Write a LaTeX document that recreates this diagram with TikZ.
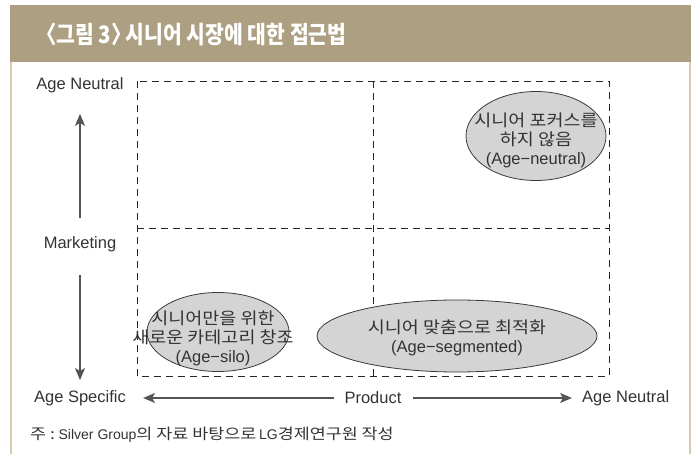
\documentclass[tikz,border=0pt]{standalone}
\usepackage{fontspec}
\usetikzlibrary{shapes.geometric,arrows.meta}
\setmainfont{Liberation Sans}
\newfontfamily\kr[FakeStretch=1.12]{Noto Sans CJK KR}
\newfontfamily\krn[FakeStretch=1.16]{Noto Sans CJK KR}
\newfontfamily\krt[FakeStretch=0.85,RawFeature={+halt}]{Noto Sans CJK KR}
\definecolor{tan}{HTML}{AD9F81}
\definecolor{tanline}{HTML}{D8CBB1}
\definecolor{txt}{HTML}{333333}
\definecolor{arr}{HTML}{555555}
\definecolor{blobfill}{HTML}{D4D4D4}
\definecolor{blobline}{HTML}{3A3A3A}
\tikzset{
  lab/.style={inner sep=0pt, text=txt, font=\fontsize{16.5}{19}\selectfont},
  grid/.style={draw=black!85, line width=0.9pt, dash pattern=on 7pt off 5pt},
  axis/.style={draw=arr, line width=1.2pt, -{Stealth[length=12pt,width=10pt,inset=3pt]}},
  blob/.style={ellipse, draw=blobline, fill=blobfill, line width=0.8pt, inner sep=0pt},
  btext/.style={inner sep=0pt, align=center, text=txt, font=\fontsize{16.5}{19}\selectfont},
}
\begin{document}
\begin{tikzpicture}[x=1pt,y=-1pt]
\useasboundingbox (0,0) rectangle (691,454);
% header and frame
\fill[tan] (10,5) rectangle (691,62);
\draw[tanline, line width=2pt] (10.5,62) -- (10.5,454);
\draw[tanline, line width=2pt] (689.5,62) -- (689.5,454);
\node[anchor=west, inner sep=0pt, text=white] (title) at (46,34)
  {\krt\bfseries\fontsize{24}{26}\selectfont 〈그림 3〉 시니어 시장에 대한 접근법};
% grid
\coordinate (g1) at (137,81);
\coordinate (g2) at (609,376);
\coordinate (vt) at (373,81);
\coordinate (vb) at (373,376);
\coordinate (hl) at (137,228);
\coordinate (hr) at (609,228);
\draw[grid] (g1) rectangle (g2);
\draw[grid] (vt) -- (vb);
\draw[grid] (hl) -- (hr);
% ellipses
\node[blob, minimum width=140pt, minimum height=89pt] (e1) at (536,136) {};
\node[btext] (t1) at (536,140) {{\kr 시니어 포커스를}\\{\kr 하지 않음}\\(Age−neutral)};
\node[blob, minimum width=142pt, minimum height=79pt] (e2) at (218,332) {};
\node[btext] (t2) at (213,338) {{\kr 시니어만을 위한}\\{\kr 새로운 카테고리 창조}\\(Age−silo)};
\node[blob, minimum width=280pt, minimum height=72pt] (e3) at (457,336) {};
\node[btext] (t3) at (457,338) {{\kr 시니어 맞춤으로 최적화}\\(Age−segmented)};
% axis labels
\node[lab] (topan) at (80,85) {Age Neutral};
\node[lab] (mkt) at (80,244) {Marketing};
\node[lab] (aspec) at (80,398) {Age Specific};
\node[lab] (prod) at (373,398) {Product};
\node[lab, anchor=west] (ran) at (582,398) {Age Neutral};
% arrows
\draw[axis, shorten <=18pt, shorten >=21pt] (mkt.north) -- (topan.south);
\draw[axis, shorten <=23pt, shorten >=10pt] (mkt.south) -- (aspec.north);
\draw[axis, shorten <=10pt, shorten >=17pt] (prod.west) -- (aspec.east);
\draw[axis, shorten <=11pt, shorten >=10pt] (prod.east) -- (ran.west);
% footnote
\node[anchor=west, inner sep=0pt, text=txt] (note) at (30,435)
  {{\krn\fontsize{15}{17}\selectfont 주 :} {\fontsize{14}{17}\selectfont Silver Group}{\krn\fontsize{15}{17}\selectfont 의 자료 바탕으로} {\fontsize{14}{17}\selectfont LG}{\krn\fontsize{15}{17}\selectfont 경제연구원 작성}};
\end{tikzpicture}
\end{document}
